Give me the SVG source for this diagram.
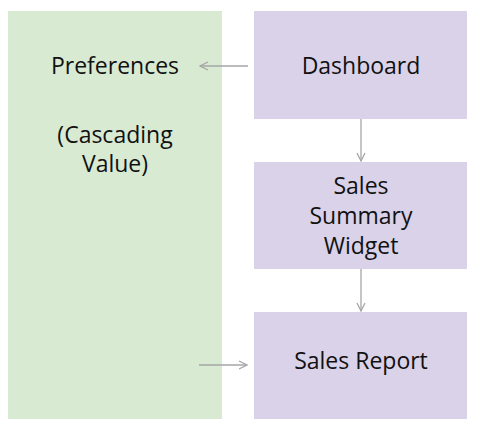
<svg xmlns="http://www.w3.org/2000/svg" width="481" height="433" viewBox="0 0 481 433">
<style>
.g{fill:#d9ead3}
.p{fill:#d9d2e9}
text{font-family:"Open Sans","Liberation Sans",sans-serif;font-size:23px;fill:#111;text-anchor:middle}
.c{stroke:#a6a6a6;stroke-width:1.3;fill:none}
</style>
<defs>
<marker id="ah" viewBox="0 0 10 10" refX="9" refY="5" markerWidth="10" markerHeight="10" markerUnits="userSpaceOnUse" orient="auto">
<path d="M1,1 L9,5 L1,9" fill="none" stroke="#a6a6a6" stroke-width="1.3"/>
</marker>
</defs>
<rect width="481" height="433" fill="#fff"/>
<g id="preferences">
<rect class="g" x="8" y="11" width="214" height="408"/>
<text x="115" y="74">Preferences</text>
<text x="115" y="143">(Cascading</text>
<text x="115" y="172">Value)</text>
</g>
<g id="dashboard">
<rect class="p" x="254" y="11" width="213" height="108"/>
<text x="361" y="74">Dashboard</text>
</g>
<g id="widget">
<rect class="p" x="254" y="162" width="213" height="107"/>
<text x="361" y="194">Sales</text>
<text x="361" y="224">Summary</text>
<text x="361" y="254">Widget</text>
</g>
<g id="report">
<rect class="p" x="254" y="312" width="213" height="107"/>
<text x="361" y="369">Sales Report</text>
</g>
<g id="connectors">
<line class="c" x1="248" y1="66" x2="200" y2="66" marker-end="url(#ah)"/>
<line class="c" x1="361" y1="119" x2="361" y2="161" marker-end="url(#ah)"/>
<line class="c" x1="361" y1="269" x2="361" y2="311" marker-end="url(#ah)"/>
<line class="c" x1="199" y1="365" x2="247" y2="365" marker-end="url(#ah)"/>
</g>
</svg>
